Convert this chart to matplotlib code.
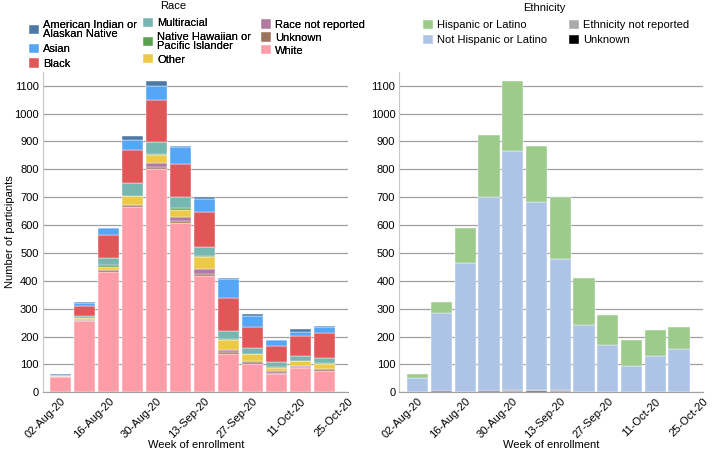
import matplotlib
matplotlib.use("Agg")
import matplotlib.pyplot as plt
import numpy as np

plt.rcParams['font.family'] = ['Liberation Sans', 'DejaVu Sans']

weeks = ["02-Aug-20", "09-Aug-20", "16-Aug-20", "23-Aug-20", "30-Aug-20", "06-Sep-20",
         "13-Sep-20", "20-Sep-20", "27-Sep-20", "04-Oct-20", "11-Oct-20", "18-Oct-20"]
tick_labels = ["02-Aug-20", "16-Aug-20", "30-Aug-20", "13-Sep-20", "27-Sep-20", "11-Oct-20", "25-Oct-20"]

# Race (stacked bottom to top: White ... AIAN)
white = [55, 257, 433, 664, 800, 609, 416, 138, 103, 66, 88, 77]
unknown_r = [2, 3, 5, 8, 8, 6, 10, 6, 4, 2, 4, 8]
not_reported_r = [0, 1, 1, 1, 13, 14, 17, 8, 6, 8, 1, 0]
other = [1, 5, 10, 30, 29, 26, 43, 34, 24, 12, 18, 17]
nhpi = [0, 1, 6, 2, 6, 5, 2, 4, 2, 2, 2, 2]
multiracial = [0, 8, 25, 44, 42, 40, 34, 29, 20, 19, 19, 19]
black = [0, 36, 86, 119, 151, 119, 124, 119, 76, 58, 70, 90]
asian = [5, 10, 22, 38, 50, 61, 47, 68, 40, 20, 16, 22]
aian = [2, 3, 2, 14, 17, 5, 7, 5, 6, 2, 8, 2]

# Ethnicity (stacked bottom to top)
unknown_e = [0, 3, 0, 4, 1, 4, 0, 0, 0, 0, 0, 0]
not_reported_e = [0, 0, 1, 2, 7, 3, 10, 2, 0, 0, 2, 0]
not_hispanic = [52, 282, 463, 694, 857, 676, 467, 241, 168, 95, 129, 156]
hispanic = [12, 38, 125, 222, 251, 201, 222, 167, 111, 94, 92, 80]

race_series = [
    ("White", white, "#ff9da7"),
    ("Unknown", unknown_r, "#9c755f"),
    ("Race not reported", not_reported_r, "#b07aa1"),
    ("Other", other, "#edc948"),
    ("Native Hawaiian or\nPacific Islander", nhpi, "#59a14f"),
    ("Multiracial", multiracial, "#76b7b2"),
    ("Black", black, "#e15759"),
    ("Asian", asian, "#55a6f7"),
    ("American Indian or\nAlaskan Native", aian, "#4e79a7"),
]
eth_series = [
    ("Unknown", unknown_e, "#000000"),
    ("Ethnicity not reported", not_reported_e, "#aaaaaa"),
    ("Not Hispanic or Latino", not_hispanic, "#aec4e6"),
    ("Hispanic or Latino", hispanic, "#9ccb8c"),
]

W, H = 712, 461
fig = plt.figure(figsize=(W / 100, H / 100), dpi=100)
ax1 = fig.add_axes([0.060, 0.149, 0.429, 0.6955])
ax2 = fig.add_axes([0.561, 0.149, 0.426, 0.6955])

x = np.arange(len(weeks))
bw = 0.89
FS = 8

def draw(ax, series, xlim):
    bottom = np.zeros(len(weeks))
    handles = {}
    for name, vals, col in series:
        v = np.array(vals, dtype=float)
        h = ax.bar(x, v, bw, bottom=bottom, color=col, edgecolor='white', linewidth=0.3, zorder=3)
        handles[name] = h
        bottom += v
    ax.set_xlim(*xlim)
    ax.set_ylim(0, 1150)
    ax.set_yticks(np.arange(0, 1101, 100))
    ax.yaxis.grid(True, color='#a0a0a0', linewidth=0.9, zorder=0)
    ax.set_axisbelow(True)
    for s in ['top', 'right']:
        ax.spines[s].set_visible(False)
    ax.spines['left'].set_color('#c8c8c8')
    ax.spines['bottom'].set_color('#a0a0a0')
    ax.tick_params(axis='y', length=0, labelsize=FS, pad=3)
    ax.tick_params(axis='x', length=0, labelsize=FS, pad=3)
    ax.set_xticks(np.arange(0, 13, 2))
    ax.set_xticklabels(tick_labels, rotation=45, ha='right', va='top', rotation_mode='anchor')
    return handles

h1 = draw(ax1, race_series, (-0.75, 11.9))
h2 = draw(ax2, eth_series, (-0.77, 11.75))

fig.text(10 / W, 1 - 232 / H, "Number of participants", rotation=90, ha='center', va='center', fontsize=FS)
fig.text(196 / W, 1 - 445 / H, "Week of enrollment", ha='center', va='center', fontsize=FS)
fig.text(551 / W, 1 - 445 / H, "Week of enrollment", ha='center', va='center', fontsize=FS)
fig.text(173 / W, 1 - 6 / H, "Race", ha='center', va='center', fontsize=FS)
fig.text(544 / W, 1 - 8 / H, "Ethnicity", ha='center', va='center', fontsize=FS)

common = dict(frameon=False, fontsize=FS, handlelength=0.9, handleheight=0.9,
              handletextpad=0.4, borderaxespad=0, borderpad=0)

def col_legend(names, handles, xpx, ypx, spacing):
    leg = fig.legend([handles[n] for n in names], names, loc='upper left',
                     bbox_to_anchor=(xpx / W, 1 - ypx / H), labelspacing=spacing, **common)
    for t in leg.get_texts():
        t.set_linespacing(0.95)
    fig.add_artist(leg)
    return leg

col_legend(["American Indian or\nAlaskan Native", "Asian", "Black"], h1, 29, 19.5, 0.4)
col_legend(["Multiracial", "Native Hawaiian or\nPacific Islander", "Other"], h1, 143, 18, 0.28)
col_legend(["Race not reported", "Unknown", "White"], h1, 261, 19.5, 0.22)

eth_order = ["Hispanic or Latino", "Not Hispanic or Latino", "Ethnicity not reported", "Unknown"]
fig.legend([h2[n] for n in eth_order], eth_order, ncol=2, loc='upper left',
           bbox_to_anchor=(423 / W, 1 - 20 / H), columnspacing=1.9, labelspacing=0.39, **common)

fig.savefig("out.png", dpi=100)
